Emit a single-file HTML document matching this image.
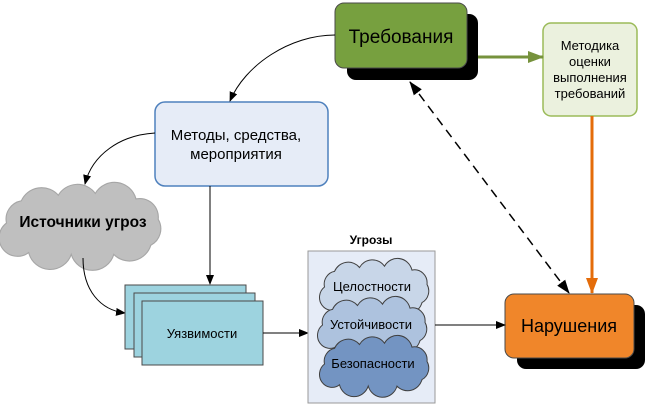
<!DOCTYPE html>
<html><head><meta charset="utf-8"><style>
html,body{margin:0;padding:0;background:#fff;}
svg{display:block;font-family:"Liberation Sans",sans-serif;}
</style></head><body>
<svg width="649" height="404" viewBox="0 0 649 404" xmlns="http://www.w3.org/2000/svg">
<defs>
<marker id="ab" markerWidth="10" markerHeight="8" refX="9" refY="4" orient="auto" markerUnits="userSpaceOnUse"><path d="M0,0 L10,4 L0,8 Z" fill="#000"/></marker>
<marker id="ab2" markerWidth="14" markerHeight="10" refX="13" refY="5" orient="auto" markerUnits="userSpaceOnUse"><path d="M0,0 L14,5 L0,10 Z" fill="#000"/></marker>
<marker id="abs" markerWidth="14" markerHeight="10" refX="1" refY="5" orient="auto" markerUnits="userSpaceOnUse"><path d="M14,0 L0,5 L14,10 Z" fill="#000"/></marker>
<marker id="ag" markerWidth="16" markerHeight="12" refX="15" refY="6" orient="auto" markerUnits="userSpaceOnUse"><path d="M0,0 L16,6 L0,12 Z" fill="#76923c"/></marker>
<marker id="ao" markerWidth="16" markerHeight="12" refX="15" refY="6" orient="auto" markerUnits="userSpaceOnUse"><path d="M0,0 L16,6 L0,12 Z" fill="#e46c0a"/></marker>
<path id="cl" d="M10,20 A10,10 0 0 1 18,8 A12,12 0 0 1 38,5 A12,12 0 0 1 58,4 A12,12 0 0 1 80,7 A10,10 0 0 1 92,18 A10,10 0 0 1 88,32 A12,12 0 0 1 68,37 A12,12 0 0 1 45,37 A12,12 0 0 1 22,36 A10,10 0 0 1 10,20 Z"/>
</defs>

<rect x="347" y="14" width="131" height="66" rx="9" fill="#000"/>
<rect x="335" y="3" width="132" height="65" rx="9" fill="#77a03f" stroke="#4a4a4a" stroke-width="1"/>
<text x="401" y="43" font-size="19" text-anchor="middle" fill="#000">Требования</text>

<rect x="543" y="23" width="94" height="93" rx="8" fill="#ebf1de" stroke="#9bbb59" stroke-width="1.5"/>
<g font-size="13" text-anchor="middle" fill="#000">
<text x="590" y="50">Методика</text><text x="590" y="66">оценки</text><text x="590" y="82">выполнения</text><text x="590" y="98">требований</text></g>
<line x1="478" y1="57" x2="543" y2="57" stroke="#76923c" stroke-width="3" marker-end="url(#ag)"/>
<line x1="592" y1="116" x2="592" y2="293" stroke="#e46c0a" stroke-width="3" marker-end="url(#ao)"/>

<rect x="517" y="305" width="128" height="64" rx="9" fill="#000"/>
<rect x="505" y="294" width="129" height="64" rx="9" fill="#f0862a" stroke="#4a4a4a" stroke-width="1"/>
<text x="569" y="332" font-size="18" text-anchor="middle" fill="#000">Нарушения</text>

<line x1="410" y1="82" x2="569" y2="293" stroke="#000" stroke-width="1.5" stroke-dasharray="9,6" marker-start="url(#abs)" marker-end="url(#ab2)"/>

<rect x="155" y="102" width="173" height="84" rx="10" fill="#e6ecf7" stroke="#4f81bd" stroke-width="1.5"/>
<text x="236" y="140" font-size="15" text-anchor="middle" fill="#000">Методы, средства,</text>
<text x="236" y="159" font-size="15" text-anchor="middle" fill="#000">мероприятия</text>
<path d="M335,35 C290,35 245,65 230,101" fill="none" stroke="#000" marker-end="url(#ab)"/>
<path d="M155,133 C120,135 92,155 85,184" fill="none" stroke="#000" marker-end="url(#ab)"/>
<line x1="210" y1="186" x2="210" y2="284" stroke="#000" marker-end="url(#ab)"/>

<use href="#cl" transform="translate(-12,186) scale(1.85,1.85)" fill="#bfbfbf" stroke="#a6a6a6" stroke-width="0.6"/>
<text x="83" y="227" font-size="15.5" font-weight="bold" text-anchor="middle" fill="#000">Источники угроз</text>
<path d="M83,258 C83,290 100,310 125,313" fill="none" stroke="#000" marker-end="url(#ab)"/>

<rect x="125" y="285" width="121" height="64" fill="#9dd3df" stroke="#4a4a4a"/>
<rect x="134" y="293" width="121" height="64" fill="#9dd3df" stroke="#4a4a4a"/>
<rect x="142" y="301" width="121" height="64" fill="#9dd3df" stroke="#4a4a4a"/>
<text x="202" y="338" font-size="13" text-anchor="middle" fill="#000">Уязвимости</text>
<line x1="263" y1="333" x2="308" y2="333" stroke="#000" marker-end="url(#ab)"/>

<text x="371" y="244" font-size="12" font-weight="bold" text-anchor="middle" fill="#000">Угрозы</text>
<rect x="308" y="251" width="127" height="152" fill="#e6ecf7" stroke="#999" stroke-width="1"/>
<use href="#cl" transform="translate(312,261) scale(1.25,1.3)" fill="#c8d6e8" stroke="#404040" stroke-width="0.8"/>
<use href="#cl" transform="translate(310,299) scale(1.25,1.3)" fill="#adc2de" stroke="#404040" stroke-width="0.8"/>
<use href="#cl" transform="translate(312,338) scale(1.25,1.3)" fill="#7394c2" stroke="#404040" stroke-width="0.8"/>
<g font-size="13" text-anchor="middle" fill="#000">
<text x="372" y="291">Целостности</text><text x="371" y="329">Устойчивости</text><text x="373" y="368">Безопасности</text></g>
<line x1="435" y1="325" x2="505" y2="325" stroke="#000" marker-end="url(#ab)"/>
</svg>
</body></html>
